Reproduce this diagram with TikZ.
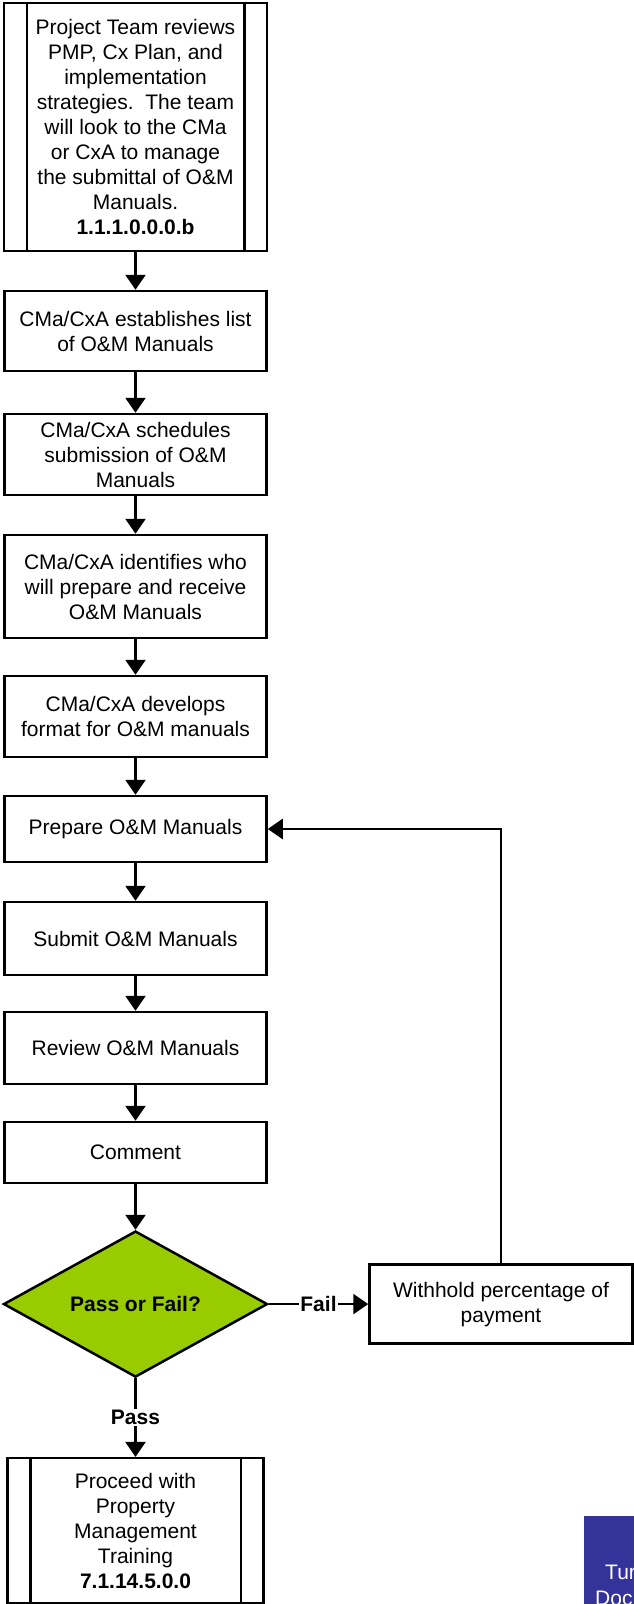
\documentclass[tikz,border=0pt]{standalone}
\usepackage{fontspec}
\setmainfont{Liberation Sans}
\usetikzlibrary{arrows.meta, positioning, shapes.geometric}
\definecolor{passgreen}{HTML}{99CC00}
\definecolor{tagblue}{HTML}{333399}
\newcommand{\boxfont}{\fontsize{21}{25}\selectfont}
\tikzset{
  box/.style={draw=black, rectangle, align=center, inner sep=2pt, minimum width=262pt, line width=2.5pt, font=\boxfont, fill=white},
  subbox/.style={box, minimum width=263pt},
  decision/.style={draw=black, diamond, align=center, inner sep=0pt, minimum width=264pt, minimum height=144pt, line width=2.5pt, fill=passgreen, font=\boxfont\bfseries},
  arrow/.style={-{Triangle[length=15pt, width=20pt]}, line width=2.5pt, draw=black},
  rule/.style={line width=2.5pt, draw=black},
  lbl/.style={fill=white, font=\boxfont\bfseries, inner sep=1pt},
  tagtext/.style={text=white, font=\boxfont, inner sep=0pt}
}

\begin{document}
\begin{tikzpicture}[x=1pt, y=1pt]
\useasboundingbox (0,0) rectangle (634,-1604);

\node[subbox, minimum height=248pt] (team) at (135.5,-127) {Project Team reviews\\PMP, Cx Plan, and\\implementation\\strategies.\ \ The team\\will look to the CMa\\or CxA to manage\\the submittal of O\&M\\Manuals.\\\textbf{1.1.1.0.0.0.b}};

\node[box, minimum height=80pt, below=37.5pt of team] (list) {CMa/CxA establishes list\\of O\&M Manuals};
\node[box, minimum height=81pt, below=40.5pt of list] (schedule) {CMa/CxA schedules\\submission of O\&M\\Manuals};
\node[box, minimum height=103pt, below=37.5pt of schedule] (who) {CMa/CxA identifies who\\will prepare and receive\\O\&M Manuals};
\node[box, minimum height=81pt, below=35.5pt of who] (format) {CMa/CxA develops\\format for O\&M manuals};
\node[box, minimum height=66pt, below=36.5pt of format] (prepare) {Prepare O\&M Manuals};
\node[box, minimum height=73pt, below=37.5pt of prepare] (submit) {Submit O\&M Manuals};
\node[box, minimum height=72pt, below=34.5pt of submit] (review) {Review O\&M Manuals};
\node[box, minimum height=61pt, below=35.5pt of review] (comment) {Comment};

\node[decision, below=45.5pt of comment] (decide) {Pass or Fail?};
\node[box, minimum width=263pt, minimum height=79pt, right=99.5pt of decide] (withhold) {Withhold percentage of\\payment};

\node[box, minimum width=256pt, minimum height=145pt, below=78.5pt of decide] (training) {Proceed with\\Property\\Management\\Training\\\textbf{7.1.14.5.0.0}};

% side bars of the sub-process boxes
\foreach \n in {team, training} {
  \draw[rule] ([xshift=24pt]\n.north west) -- ([xshift=24pt]\n.south west);
  \draw[rule] ([xshift=-24pt]\n.north east) -- ([xshift=-24pt]\n.south east);
}

\draw[arrow] (team) -- (list);
\draw[arrow] (list) -- (schedule);
\draw[arrow] (schedule) -- (who);
\draw[arrow] (who) -- (format);
\draw[arrow] (format) -- (prepare);
\draw[arrow] (prepare) -- (submit);
\draw[arrow] (submit) -- (review);
\draw[arrow] (review) -- (comment);
\draw[arrow] (comment) -- (decide);

\draw[arrow] (decide.east) -- node[lbl] {Fail} (withhold.west);
\draw[arrow] (withhold.north) |- (prepare.east);
\draw[arrow] (decide.south) -- node[lbl] {Pass} (training.north);

% cut-off tag at the corner
\node[fill=tagblue, anchor=north west, minimum width=100pt, minimum height=120pt, inner sep=0pt] (tag) at (584,-1516) {};
\node[tagtext, anchor=base west] (tagtop) at (605,-1579) {Tur};
\node[tagtext, anchor=base west] (tagbottom) at (595,-1605) {Doc};

\end{tikzpicture}
\end{document}
